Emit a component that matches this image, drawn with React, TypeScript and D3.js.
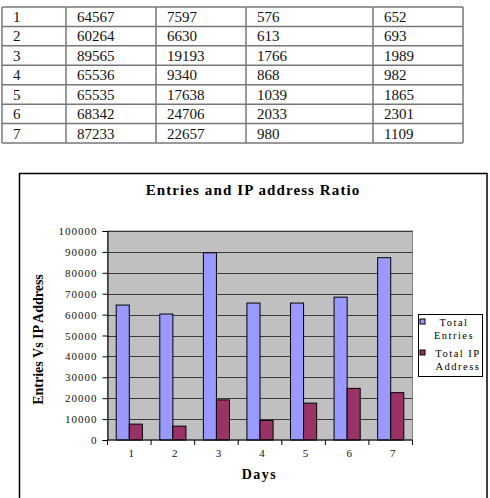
import React, { useEffect, useRef } from "react";
import { select, scaleBand, scaleLinear, axisLeft, range } from "d3";

// day-by-day log counts
const days = ["1", "2", "3", "4", "5", "6", "7"];
const totalEntries = [64567, 60264, 89565, 65536, 65535, 68342, 87233];
const totalIP = [7597, 6630, 19193, 9340, 17638, 24706, 22657];
const colFour = [576, 613, 1766, 868, 1039, 2033, 980];
const colFive = [652, 693, 1989, 982, 1865, 2301, 1109];

const yTicks = [0, 10000, 20000, 30000, 40000, 50000, 60000, 70000, 80000, 90000, 100000];
const seriesNames = [["Total", "Entries"], ["Total IP", "Address"]];
const colors = ["#9999FF", "#993366"];

const serif = "'Liberation Serif', 'Times New Roman', serif";

const App = () => {
  const svgRef = useRef<SVGSVGElement>(null);

  useEffect(() => {
    const svg = select(svgRef.current);
    svg.selectAll("*").remove();

    // ---- table ----
    const colX = [2, 66, 156, 246, 373, 463];
    const rowY = scaleBand<number>().domain(range(days.length)).range([7, 143]);
    const table = svg.append("g");
    const rows = days.map((d, i) => [d, totalEntries[i], totalIP[i], colFour[i], colFive[i]]);

    rows.forEach((row, i) => {
      row.forEach((v, j) => {
        table
          .append("text")
          .attr("x", colX[j] + 11)
          .attr("y", (rowY(i) as number) + 15)
          .style("font", `15px ${serif}`)
          .attr("fill", "#111")
          .text(String(v));
      });
    });
    range(days.length + 1).forEach((i) => {
      const y = i === days.length ? 143 : (rowY(i) as number);
      table.append("line").attr("x1", colX[0]).attr("x2", colX[5]).attr("y1", y).attr("y2", y)
        .attr("stroke", "#777").attr("stroke-width", 1.5);
    });
    colX.forEach((x) => {
      table.append("line").attr("x1", x).attr("x2", x).attr("y1", 7).attr("y2", 143)
        .attr("stroke", "#777").attr("stroke-width", 1.5);
    });

    // ---- chart frame ----
    svg.append("rect").attr("x", 19.5).attr("y", 173.5).attr("width", 467.5).attr("height", 360)
      .attr("fill", "white").attr("stroke", "black").attr("stroke-width", 1.5);

    const left = 107.5, right = 412.5, top = 231, bottom = 440;

    const x0 = scaleBand().domain(days).range([left, right]).paddingInner(0.4).paddingOuter(0.2);
    const x1 = scaleBand().domain(["0", "1"]).range([0, x0.bandwidth()]);
    const step = x0.step();
    const y = scaleLinear().domain([0, 100000]).range([bottom, top]);

    svg.append("rect").attr("x", left).attr("y", top).attr("width", right - left).attr("height", bottom - top)
      .attr("fill", "#C0C0C0").attr("stroke", "#808080").attr("stroke-width", 1);

    // gridlines
    svg.append("g").selectAll("line").data(yTicks.slice(1)).join("line")
      .attr("x1", left).attr("x2", right)
      .attr("y1", (d) => Math.round(y(d)) + 0.5).attr("y2", (d) => Math.round(y(d)) + 0.5)
      .attr("stroke", "#3a3a3a").attr("stroke-width", 1);

    // bars
    const series = [totalEntries, totalIP];
    series.forEach((vals, s) => {
      svg.append("g").selectAll("rect").data(vals).join("rect")
        .attr("x", (d, i) => (x0(days[i]) as number) + (x1(String(s)) as number))
        .attr("y", (d) => y(d))
        .attr("width", x1.bandwidth())
        .attr("height", (d) => bottom - y(d))
        .attr("fill", colors[s])
        .attr("stroke", "black").attr("stroke-width", 1);
    });

    // y axis
    const yAxis = axisLeft(y).tickValues(yTicks).tickSize(5).tickPadding(5).tickFormat((d) => String(d));
    const yg = svg.append("g").attr("transform", `translate(${left},0)`).call(yAxis);
    yg.select(".domain").attr("stroke", "black");
    yg.selectAll("text").style("font", `11px ${serif}`).style("letter-spacing", "1px").attr("fill", "#111");

    // x axis, ticks sit between days
    const xg = svg.append("g").attr("transform", `translate(0,${bottom})`);
    xg.append("line").attr("x1", left).attr("x2", right).attr("y1", 0).attr("y2", 0).attr("stroke", "black");
    range(days.length + 1).forEach((i) => {
      const tx = left + i * step;
      xg.append("line").attr("x1", tx).attr("x2", tx).attr("y1", 0).attr("y2", 5).attr("stroke", "black");
    });
    xg.selectAll("text").data(days).join("text")
      .attr("x", (d) => (x0(d) as number) + x0.bandwidth() / 2 + 2)
      .attr("y", 17)
      .attr("text-anchor", "middle")
      .style("font", `11px ${serif}`)
      .attr("fill", "#111")
      .text((d) => d);

    // titles
    svg.append("text").attr("x", 253).attr("y", 195).attr("text-anchor", "middle")
      .style("font", `bold 15px ${serif}`).style("letter-spacing", "1.1px")
      .text("Entries and IP address Ratio");

    svg.append("text").attr("x", 259.5).attr("y", 479).attr("text-anchor", "middle")
      .style("font", `bold 14px ${serif}`).style("letter-spacing", "1.5px")
      .text("Days");

    svg.append("text").attr("transform", `translate(43,${(top + bottom) / 2 + 4}) rotate(-90)`)
      .attr("text-anchor", "middle")
      .style("font", `bold 14px ${serif}`)
      .text("Entries Vs IP Address");

    // legend
    const lg = svg.append("g");
    lg.append("rect").attr("x", 418.5).attr("y", 314.5).attr("width", 64).attr("height", 62)
      .attr("fill", "white").attr("stroke", "black").attr("stroke-width", 1);
    seriesNames.forEach((lines, s) => {
      const base = 325.5 + s * 31;
      lg.append("rect").attr("x", 420).attr("y", base - 6.5).attr("width", 5).attr("height", 5)
        .attr("fill", colors[s]).attr("stroke", "black").attr("stroke-width", 1);
      lines.forEach((t, k) => {
        lg.append("text").attr("x", s === 0 ? 454 : 458).attr("y", base + k * 13.5)
          .attr("text-anchor", "middle")
          .style("font", `10.5px ${serif}`).style("letter-spacing", "1.5px")
          .text(t);
      });
    });
  }, []);

  return (
    <svg
      ref={svgRef}
      width={490}
      height={498}
      style={{ position: "absolute", left: 0, top: 0, background: "white" }}
    />
  );
};

export default App;
